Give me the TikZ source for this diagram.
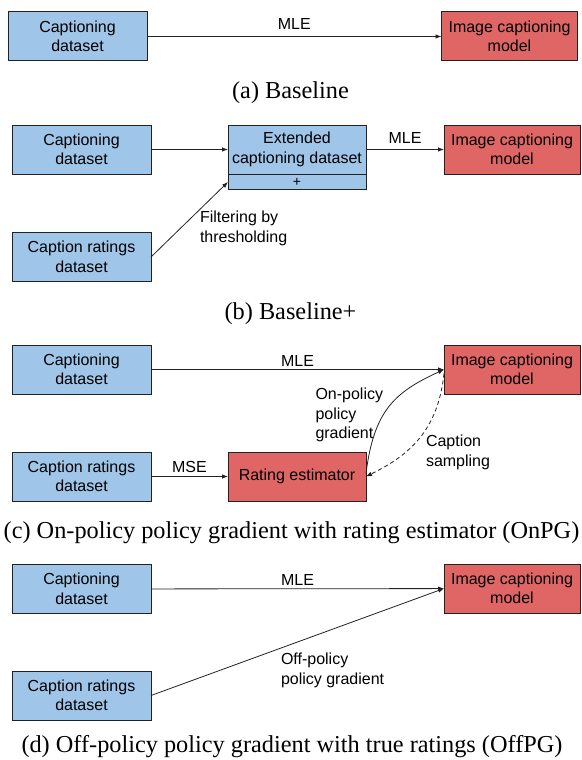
\documentclass[tikz,border=0pt]{standalone}
\usepackage{fontspec}
\setmainfont{Liberation Serif}
\newfontfamily\boxfont{Liberation Sans}
\usetikzlibrary{arrows.meta}
\definecolor{boxblue}{HTML}{9FC5E8}
\definecolor{boxred}{HTML}{E06666}
\definecolor{edgegray}{HTML}{222222}
\begin{document}
\begin{tikzpicture}[x=1pt,y=-1pt,
  every node/.style={inner sep=0pt, outer sep=0pt},
  txt/.style={font=\boxfont\fontsize{16}{19.5}\selectfont, text=black},
  bluebox/.style={txt, draw=edgegray, line width=1pt, fill=boxblue, minimum width=139pt, minimum height=49pt, align=center},
  redbox/.style={bluebox, fill=boxred, minimum width=136pt},
  arr/.style={-{Latex[length=6pt,width=4.5pt]}, line width=0.8pt, draw=edgegray},
  lbl/.style={txt, align=left},
  captxt/.style={font=\fontsize{24.3}{28}\selectfont}
]
\useasboundingbox (0,0) rectangle (581,760);

% (a)
\node[bluebox] (a1) at (77.5,36.5) {Captioning\\dataset};
\node[redbox] (a2) at (509.5,36.5) {Image captioning\\model};
\draw[arr] (a1) -- node[txt, above=7pt] (amle) {MLE} (a2);
\node[captxt] (capa) at (290.5,93) {(a) Baseline};

% (b)
\node[bluebox] (b1) at (81.5,149.5) {Captioning\\dataset};
\node[bluebox, minimum width=138pt] (ext) at (297,149.5) {Extended\\captioning dataset};
\node[bluebox, minimum width=138pt, minimum height=15pt, font=\boxfont\fontsize{14}{14}\selectfont] (extp) at (297,182) {+};
\node[redbox] (b2) at (512,149.5) {Image captioning\\model};
\node[bluebox] (b3) at (81.5,257) {Caption ratings\\dataset};
\draw[arr] (b1) -- (ext);
\draw[arr] (ext) -- node[txt, above=6pt] (bmle) {MLE} (b2);
\draw[arr] (b3.east) -- (extp.west);
\node[lbl, anchor=north west] (filt) at (200,211) {Filtering by\\thresholding};
\node[captxt] (capb) at (290.5,314) {(b) Baseline+};

% (c)
\node[bluebox] (c1) at (81.5,369.5) {Captioning\\dataset};
\node[redbox] (c2) at (512,369.5) {Image captioning\\model};
\node[bluebox] (c3) at (81.5,476.5) {Caption ratings\\dataset};
\node[redbox, minimum width=138pt] (re) at (297,476.5) {Rating estimator};
\draw[arr] (c1) -- node[txt, above=3.5pt] (cmle) {MLE} (c2);
\draw[arr] (c3) -- node[txt, above=3.5pt] (cmse) {MSE} (re);
\draw[arr] ([yshift=3pt]re.east) .. controls (374,410) and (395,392) .. (c2.west);
\draw[arr, dash pattern=on 4pt off 3pt] ([yshift=-4pt]c2.west) .. controls (438,430) and (410,455) .. (re.east);
\node[lbl, anchor=north west] (onpg) at (315.5,388) {On-policy\\policy\\gradient};
\node[lbl, anchor=north west] (csamp) at (426,435) {Caption\\sampling};
\node[captxt] (capc) at (291.5,533) {(c) On-policy policy gradient with rating estimator (OnPG)};

% (d)
\node[bluebox] (d1) at (81.5,589) {Captioning\\dataset};
\node[redbox] (d2) at (512,588.5) {Image captioning\\model};
\node[bluebox] (d3) at (81.5,695.5) {Caption ratings\\dataset};
\draw[arr] (d1) -- node[txt, above=3.5pt] (dmle) {MLE} (d2);
\draw[arr] (d3.east) -- (d2.west);
\node[lbl, anchor=north west] (offpg) at (281,653) {Off-policy\\policy gradient};
\node[captxt] (capd) at (292,747) {(d) Off-policy policy gradient with true ratings (OffPG)};
\end{tikzpicture}
\end{document}
